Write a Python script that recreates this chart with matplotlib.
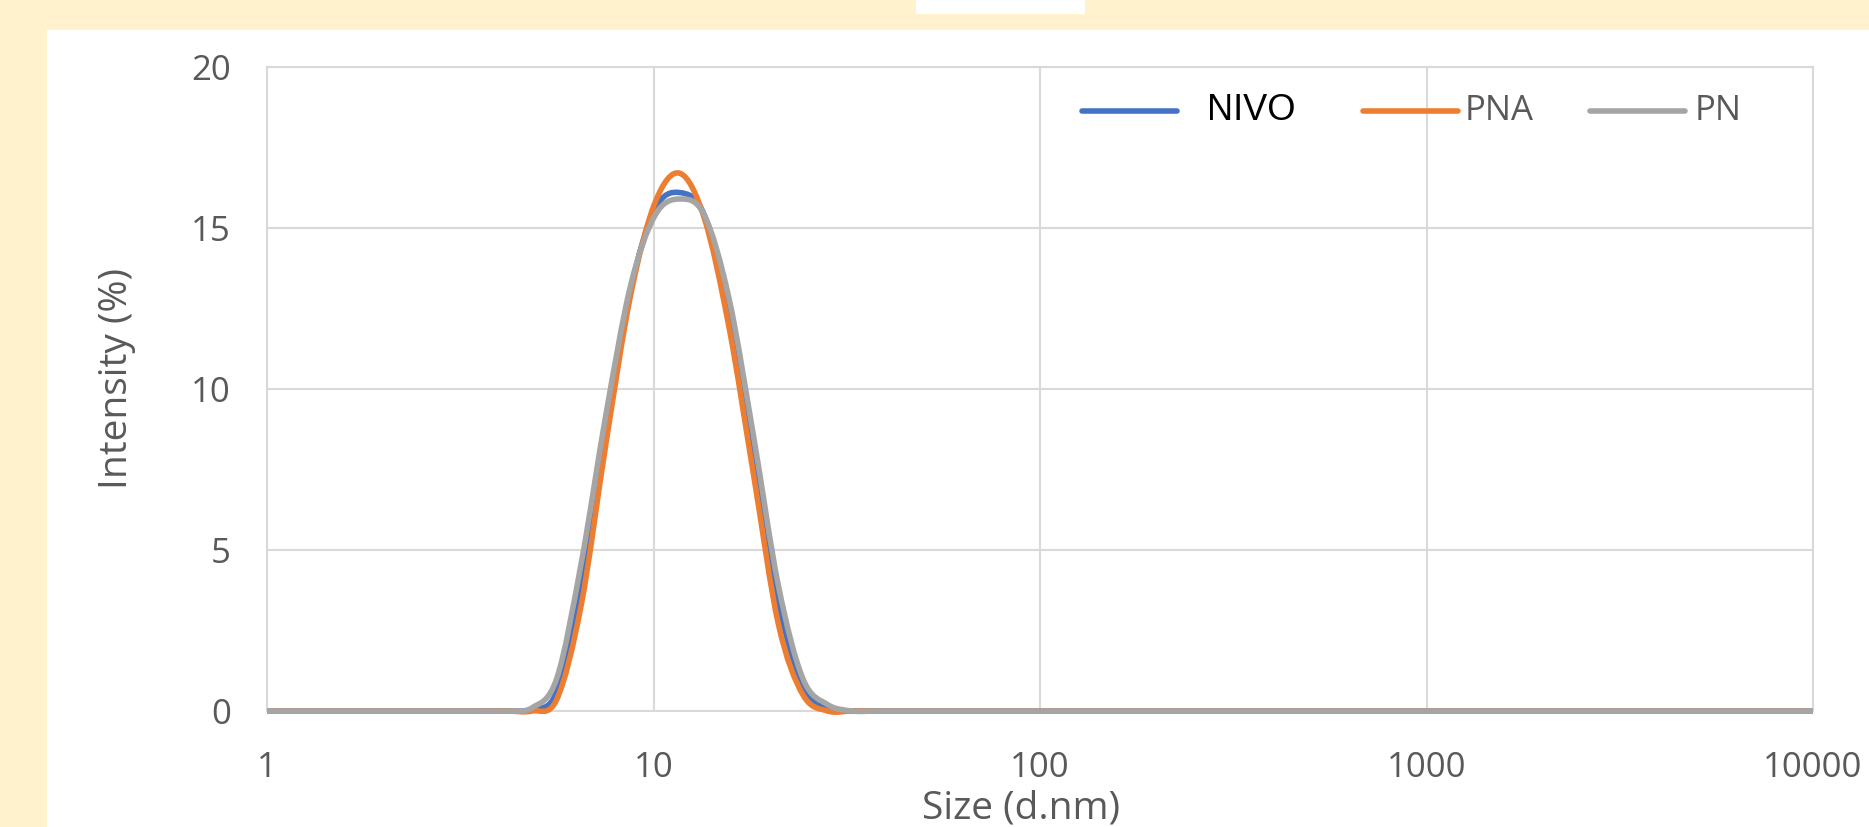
import numpy as np
import matplotlib
matplotlib.use("Agg")
import matplotlib.pyplot as plt
from matplotlib.path import Path
from matplotlib.patches import PathPatch, Rectangle
from matplotlib.lines import Line2D
from matplotlib.ticker import FixedLocator, FixedFormatter, NullLocator

# ---------------------------
# Data (Zetasizer size classes, d.nm)
# ---------------------------

sizes = [
    0.4, 0.4632, 0.5365, 0.6213, 0.7195, 0.8332, 0.9649, 1.117, 1.294, 1.499,
    1.736, 2.01, 2.328, 2.696, 3.122, 3.615, 4.187, 4.849, 5.615, 6.503,
    7.531, 8.721, 10.1, 11.7, 13.54, 15.69, 18.17, 21.04, 24.36, 28.21,
    32.67, 37.84, 43.82, 50.75, 58.77, 68.06, 78.82, 91.28, 105.7, 122.4,
    141.8, 164.2, 190.1, 220.2, 255.0, 295.3, 342.0, 396.1, 458.7, 531.2,
    615.1, 712.4, 825.0, 955.4, 1106, 1281, 1484, 1718, 1990, 2305,
    2669, 3091, 3580, 4145, 4801, 5560, 6439, 7456, 8635, 10000,
]

nivo = [
    0, 0, 0, 0, 0, 0, 0, 0, 0, 0,
    0, 0, 0, 0, 0, 0, 0, 0.05, 0.6, 4.0,
    8.9, 13.1, 15.6, 16.1, 15.4, 12.4, 8.0, 3.4, 0.8, 0.1,
    0, 0, 0, 0, 0, 0, 0, 0, 0, 0,
    0, 0, 0, 0, 0, 0, 0, 0, 0, 0,
    0, 0, 0, 0, 0, 0, 0, 0, 0, 0,
    0, 0, 0, 0, 0, 0, 0, 0, 0, 0,
]

pna = [
    0, 0, 0, 0, 0, 0, 0, 0, 0, 0,
    0, 0, 0, 0, 0, 0, 0, 0, 0.35, 3.3,
    8.3, 12.9, 15.8, 16.7, 15.3, 11.9, 7.3, 2.7, 0.5, 0,
    0, 0, 0, 0, 0, 0, 0, 0, 0, 0,
    0, 0, 0, 0, 0, 0, 0, 0, 0, 0,
    0, 0, 0, 0, 0, 0, 0, 0, 0, 0,
    0, 0, 0, 0, 0, 0, 0, 0, 0, 0,
]

pn = [
    0, 0, 0, 0, 0, 0, 0, 0, 0, 0,
    0, 0, 0, 0, 0, 0, 0, 0.1, 1.0, 4.6,
    9.2, 13.2, 15.4, 15.9, 15.4, 12.8, 8.5, 3.9, 1.0, 0.2,
    0, 0, 0, 0, 0, 0, 0, 0, 0, 0,
    0, 0, 0, 0, 0, 0, 0, 0, 0, 0,
    0, 0, 0, 0, 0, 0, 0, 0, 0, 0,
    0, 0, 0, 0, 0, 0, 0, 0, 0, 0,
]

series_names = ["NIVO", "PNA", "PN"]
series_colors = ["#4472C4", "#ED7D31", "#A5A5A5"]

x_ticks = [1, 10, 100, 1000, 10000]
x_tick_labels = ["1", "10", "100", "1000", "10000"]
y_ticks = [0, 5, 10, 15, 20]

# ---------------------------
# Helpers
# ---------------------------

W, H = 1869, 827
TEXT = "#595959"
GRID = "#D9D9D9"


def fx(px):
    return px / W


def fy(py):
    return 1 - py / H


def smooth_path(xs, ys):
    # Excel-style smoothed line: cubic bezier through the points (log x space)
    pts = np.column_stack([np.log10(xs), ys]).astype(float)
    verts = [pts[0]]
    codes = [Path.MOVETO]
    n = len(pts)
    for i in range(n - 1):
        p0 = pts[i - 1] if i > 0 else pts[i]
        p1 = pts[i]
        p2 = pts[i + 1]
        p3 = pts[i + 2] if i + 2 < n else pts[i + 1]
        verts += [p1 + (p2 - p0) / 6, p2 - (p3 - p1) / 6, p2]
        codes += [Path.CURVE4] * 3
    verts = np.array(verts)
    verts[:, 0] = 10 ** verts[:, 0]
    return Path(verts, codes)


# ---------------------------
# Figure
# ---------------------------

fig = plt.figure(figsize=(W / 100, H / 100), dpi=100, facecolor="#FFF2CC")

# white chart panel and the small white box on top
fig.add_artist(Rectangle((fx(47), 0), 1 - fx(47), fy(30), transform=fig.transFigure,
                         facecolor="white", edgecolor="none", zorder=0))
fig.add_artist(Rectangle((fx(916), fy(14)), fx(1085) - fx(916), 1 - fy(14),
                         transform=fig.transFigure, facecolor="white",
                         edgecolor="none", zorder=0))

ax = fig.add_axes([fx(267), fy(711), fx(1813) - fx(267), fy(67) - fy(711)])
ax.set_facecolor("white")
ax.set_xscale("log")
ax.set_xlim(1, 10000)
ax.set_ylim(0, 20)

ax.xaxis.set_major_locator(FixedLocator(x_ticks))
ax.xaxis.set_major_formatter(FixedFormatter(x_tick_labels))
ax.xaxis.set_minor_locator(NullLocator())
ax.set_yticks(y_ticks)

ax.grid(True, color=GRID, linewidth=1.5)
ax.set_axisbelow(True)
for s in ax.spines.values():
    s.set_color(GRID)
    s.set_linewidth(1.5)

ax.tick_params(axis="both", length=0, colors=TEXT, labelsize=25)
ax.tick_params(axis="x", pad=29)
ax.tick_params(axis="y", pad=26)
for lab in ax.get_xticklabels() + ax.get_yticklabels():
    lab.set_fontfamily("Open Sans")

ax.set_xlabel("Size (d.nm)", fontsize=28, color=TEXT, family="Open Sans", va="center")
ax.xaxis.set_label_coords((1021 - 267) / 1546, (711 - 808) / 644)
ax.set_ylabel("Intensity (%)", fontsize=28, color=TEXT, family="Open Sans", va="center")
ax.yaxis.set_label_coords((117 - 267) / 1546, (711 - 378) / 644)

clip = Rectangle((0, -0.05), 1, 1.1, transform=ax.transAxes)
for vals, color in zip([nivo, pna, pn], series_colors):
    patch = PathPatch(smooth_path(sizes, vals), fill=False, edgecolor=color,
                      linewidth=4.0, capstyle="round", joinstyle="round", zorder=3)
    ax.add_patch(patch)
    patch.set_clip_path(clip)

# ---------------------------
# Legend (drawn by hand to match layout)
# ---------------------------

leg_y = 111
legend_spec = [
    (1082, 1177, 1207, series_colors[0]),
    (1363, 1458, 1465, series_colors[1]),
    (1590, 1685, 1695, series_colors[2]),
]
for (x0, x1, xt, color), name in zip(legend_spec, series_names):
    fig.add_artist(Line2D([fx(x0), fx(x1)], [fy(leg_y), fy(leg_y)], transform=fig.transFigure,
                          color=color, linewidth=4.0, solid_capstyle="round", zorder=5))
    if name == "NIVO":
        fig.text(fx(xt), fy(leg_y), name, ha="left", va="center", fontsize=26,
                 color="black", family="Liberation Sans", zorder=6)
    else:
        fig.text(fx(xt), fy(leg_y), name, ha="left", va="center", fontsize=25,
                 color=TEXT, family="Open Sans", zorder=6)

fig.savefig("out.png", dpi=100, facecolor=fig.get_facecolor())
